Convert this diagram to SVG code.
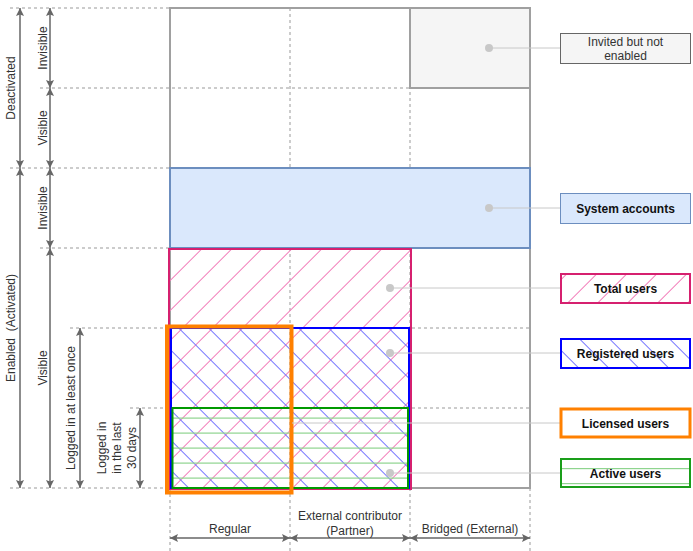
<svg xmlns="http://www.w3.org/2000/svg" width="693" height="551" viewBox="0 0 693 551">
<style>
text{font-family:"Liberation Sans",Arial,sans-serif;font-size:12px;fill:#333;}
.b{font-weight:bold;fill:#111;}
.dash{stroke:#999;stroke-width:1;stroke-dasharray:3 3;fill:none;}
.arr{stroke:#666;stroke-width:1.5;fill:none;marker-start:url(#ah);marker-end:url(#ah);}
.lead{stroke:#c8c8c8;stroke-width:1;fill:none;}
.dot{fill:#c8c8c8;}
</style>
<defs>
<marker id="ah" viewBox="0 0 10 10" refX="10" refY="5" markerWidth="8" markerHeight="8" markerUnits="userSpaceOnUse" orient="auto-start-reverse">
<path d="M0,0 L10,5 L0,10 L2,5 z" fill="#666"/>
</marker>
<pattern id="hatchPink" patternUnits="userSpaceOnUse" x="0" y="0" width="21.2132" height="21.2132" patternTransform="rotate(45)">
<rect x="0" y="0" width="1" height="21.2132" fill="#f27ab8"/>
</pattern>
<pattern id="hatchBlue" patternUnits="userSpaceOnUse" x="0" y="0" width="21.2132" height="21.2132" patternTransform="rotate(-45)">
<rect x="0" y="0" width="1" height="21.2132" fill="#7373ff"/>
</pattern>
<pattern id="hatchGreen1" patternUnits="userSpaceOnUse" x="0" y="408" width="30" height="15">
<rect x="0" y="9.5" width="30" height="1.2" fill="#8fd48f"/>
</pattern>
<pattern id="hatchGreen2" patternUnits="userSpaceOnUse" x="0" y="458" width="30" height="15">
<rect x="0" y="10" width="30" height="1.2" fill="#8fd48f"/>
</pattern>
</defs>
<rect width="693" height="551" fill="#fff"/>

<g id="grid">
<path class="dash" d="M10,8 H170 M40,88 H530 M10,168 H530 M40,248 H530 M70,328 H530 M130,408 H530 M10,488 H170"/>
<path class="dash" d="M290,8 V488 M410,8 V488"/>
<path class="dash" d="M170,488 V551 M290,488 V551 M410,488 V551 M530,488 V551"/>
</g>

<g id="outer-box">
<rect x="170" y="8" width="360" height="480" fill="none" stroke="#a0a0a0" stroke-width="2"/>
</g>

<g id="invited">
<rect x="410" y="8" width="120" height="80" fill="#f5f5f5" stroke="#a0a0a0" stroke-width="2"/>
</g>
<g id="system">
<rect x="170" y="168" width="360" height="80" fill="#dae8fc" stroke="#6c8ebf" stroke-width="2"/>
</g>
<g id="total">
<rect x="169" y="249" width="242" height="240" fill="url(#hatchPink)" stroke="#d6206f" stroke-width="2"/>
</g>
<g id="registered">
<rect x="171" y="328" width="238" height="160" fill="url(#hatchBlue)" stroke="#0000ff" stroke-width="2"/>
</g>
<g id="active">
<rect x="172.5" y="408" width="235.5" height="80" fill="url(#hatchGreen1)" stroke="#009900" stroke-width="2"/>
</g>
<g id="licensed">
<rect x="167" y="326.5" width="124.5" height="166" fill="none" stroke="#ff8000" stroke-width="4"/>
</g>

<g id="connectors">
<path class="lead" d="M489,48 H560 M489,208 H560 M390,288 H560 M390,353 H560 M292,423 H560 M390,473 H560"/>
<circle class="dot" cx="489" cy="48" r="4"/>
<circle class="dot" cx="489" cy="208" r="4"/>
<circle class="dot" cx="390" cy="288" r="4"/>
<circle class="dot" cx="390" cy="353" r="4"/>
<circle class="dot" cx="390" cy="473" r="4"/>
<path class="arr" d="M20,8 V168"/>
<path class="arr" d="M20,168 V488"/>
<path class="arr" d="M50,8 V88"/>
<path class="arr" d="M50,88 V168"/>
<path class="arr" d="M50,168 V248"/>
<path class="arr" d="M50,248 V488"/>
<path class="arr" d="M80,328 V488"/>
<path class="arr" d="M140,408 V488"/>
<path class="arr" d="M170,538 H290"/>
<path class="arr" d="M290,538 H410"/>
<path class="arr" d="M410,538 H530"/>
</g>

<g id="label-invited">
<rect x="560.5" y="33.5" width="130" height="30" fill="#f5f5f5" stroke="#666"/>
<text x="625.5" y="45.5" text-anchor="middle">Invited but not</text>
<text x="625.5" y="59.5" text-anchor="middle">enabled</text>
</g>
<g id="label-system">
<rect x="560.5" y="193.5" width="130" height="30" fill="#dae8fc" stroke="#6c8ebf"/>
<text class="b" x="625.5" y="213" text-anchor="middle">System accounts</text>
</g>
<g id="label-total">
<rect x="561" y="274" width="129" height="29" fill="url(#hatchPink)" stroke="#d6206f" stroke-width="2"/>
<text class="b" x="625.5" y="293" text-anchor="middle">Total users</text>
</g>
<g id="label-registered">
<rect x="561" y="339" width="129" height="29" fill="url(#hatchBlue)" stroke="#0000ff" stroke-width="2"/>
<text class="b" x="625.5" y="358" text-anchor="middle">Registered users</text>
</g>
<g id="label-licensed">
<rect x="561" y="409" width="129" height="28" fill="#fff" stroke="#ff8000" stroke-width="3"/>
<text class="b" x="625.5" y="428" text-anchor="middle">Licensed users</text>
</g>
<g id="label-active">
<rect x="561" y="459" width="129" height="28" fill="url(#hatchGreen2)" stroke="#1a9e1a" stroke-width="2"/>
<text class="b" x="625.5" y="478" text-anchor="middle">Active users</text>
</g>

<g id="side-labels">
<text x="11" y="88" text-anchor="middle" dominant-baseline="central" transform="rotate(-90 11 88)">Deactivated</text>
<text x="11" y="328" text-anchor="middle" dominant-baseline="central" transform="rotate(-90 11 328)" xml:space="preserve">Enabled  (Activated)</text>
<text x="43" y="48" text-anchor="middle" dominant-baseline="central" transform="rotate(-90 43 48)">Invisible</text>
<text x="43" y="128" text-anchor="middle" dominant-baseline="central" transform="rotate(-90 43 128)">Visible</text>
<text x="43" y="208" text-anchor="middle" dominant-baseline="central" transform="rotate(-90 43 208)">Invisible</text>
<text x="43" y="368" text-anchor="middle" dominant-baseline="central" transform="rotate(-90 43 368)">Visible</text>
<text x="71" y="408" text-anchor="middle" dominant-baseline="central" transform="rotate(-90 71 408)">Logged in at least once</text>
<text x="117" y="448" text-anchor="middle" dominant-baseline="central" transform="rotate(-90 117 448)"><tspan x="117" dy="-15">Logged in</tspan><tspan x="117" dy="15">in the last</tspan><tspan x="117" dy="15">30 days</tspan></text>
</g>

<g id="bottom-labels">
<text x="230" y="533" text-anchor="middle">Regular</text>
<text x="350" y="520" text-anchor="middle">External contributor</text>
<text x="350" y="535" text-anchor="middle">(Partner)</text>
<text x="470" y="533" text-anchor="middle">Bridged (External)</text>
</g>
</svg>
